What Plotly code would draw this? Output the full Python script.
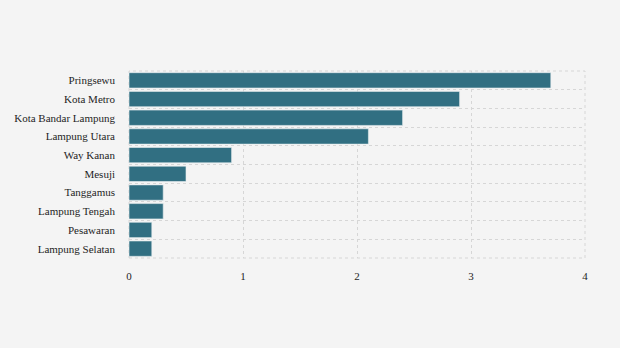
import plotly.graph_objects as go

regions = ["Pringsewu", "Kota Metro", "Kota Bandar Lampung", "Lampung Utara",
           "Way Kanan", "Mesuji", "Tanggamus", "Lampung Tengah",
           "Pesawaran", "Lampung Selatan"]
values = [3.7, 2.9, 2.4, 2.1, 0.9, 0.5, 0.3, 0.3, 0.2, 0.2]
x_ticks = [0, 1, 2, 3, 4]

grid_color = "#d6d6d6"

fig = go.Figure(go.Bar(
    x=values,
    y=regions,
    orientation="h",
    marker=dict(color="#316f82", line=dict(color="#e8eef0", width=0.6)),
    hoverinfo="x+y",
))

fig.update_layout(
    width=620, height=348,
    margin=dict(l=129, r=35, t=71, b=90),
    paper_bgcolor="#f4f4f4",
    plot_bgcolor="#f4f4f4",
    font=dict(family="Liberation Serif", size=11, color="#1e1e1e"),
    bargap=0.18,
    showlegend=False,
    # dotted frame around the plotting area
    shapes=[dict(type="rect", xref="paper", yref="paper", x0=0, x1=1, y0=0, y1=1,
                 line=dict(color=grid_color, width=1, dash="dot"), layer="below")],
)
fig.update_xaxes(
    range=[0, 4],
    tickvals=x_ticks,
    showgrid=True, gridcolor=grid_color, griddash="dot", gridwidth=1,
    zeroline=False, showline=False,
    ticks="", ticklabelstandoff=10,
    fixedrange=True,
)
fig.update_yaxes(
    categoryorder="array", categoryarray=regions[::-1],
    tickson="boundaries",
    showgrid=True, gridcolor=grid_color, griddash="dot", gridwidth=1,
    zeroline=False, showline=False,
    ticks="", ticklabelstandoff=13,
    fixedrange=True,
)

fig.write_html("out.html")
